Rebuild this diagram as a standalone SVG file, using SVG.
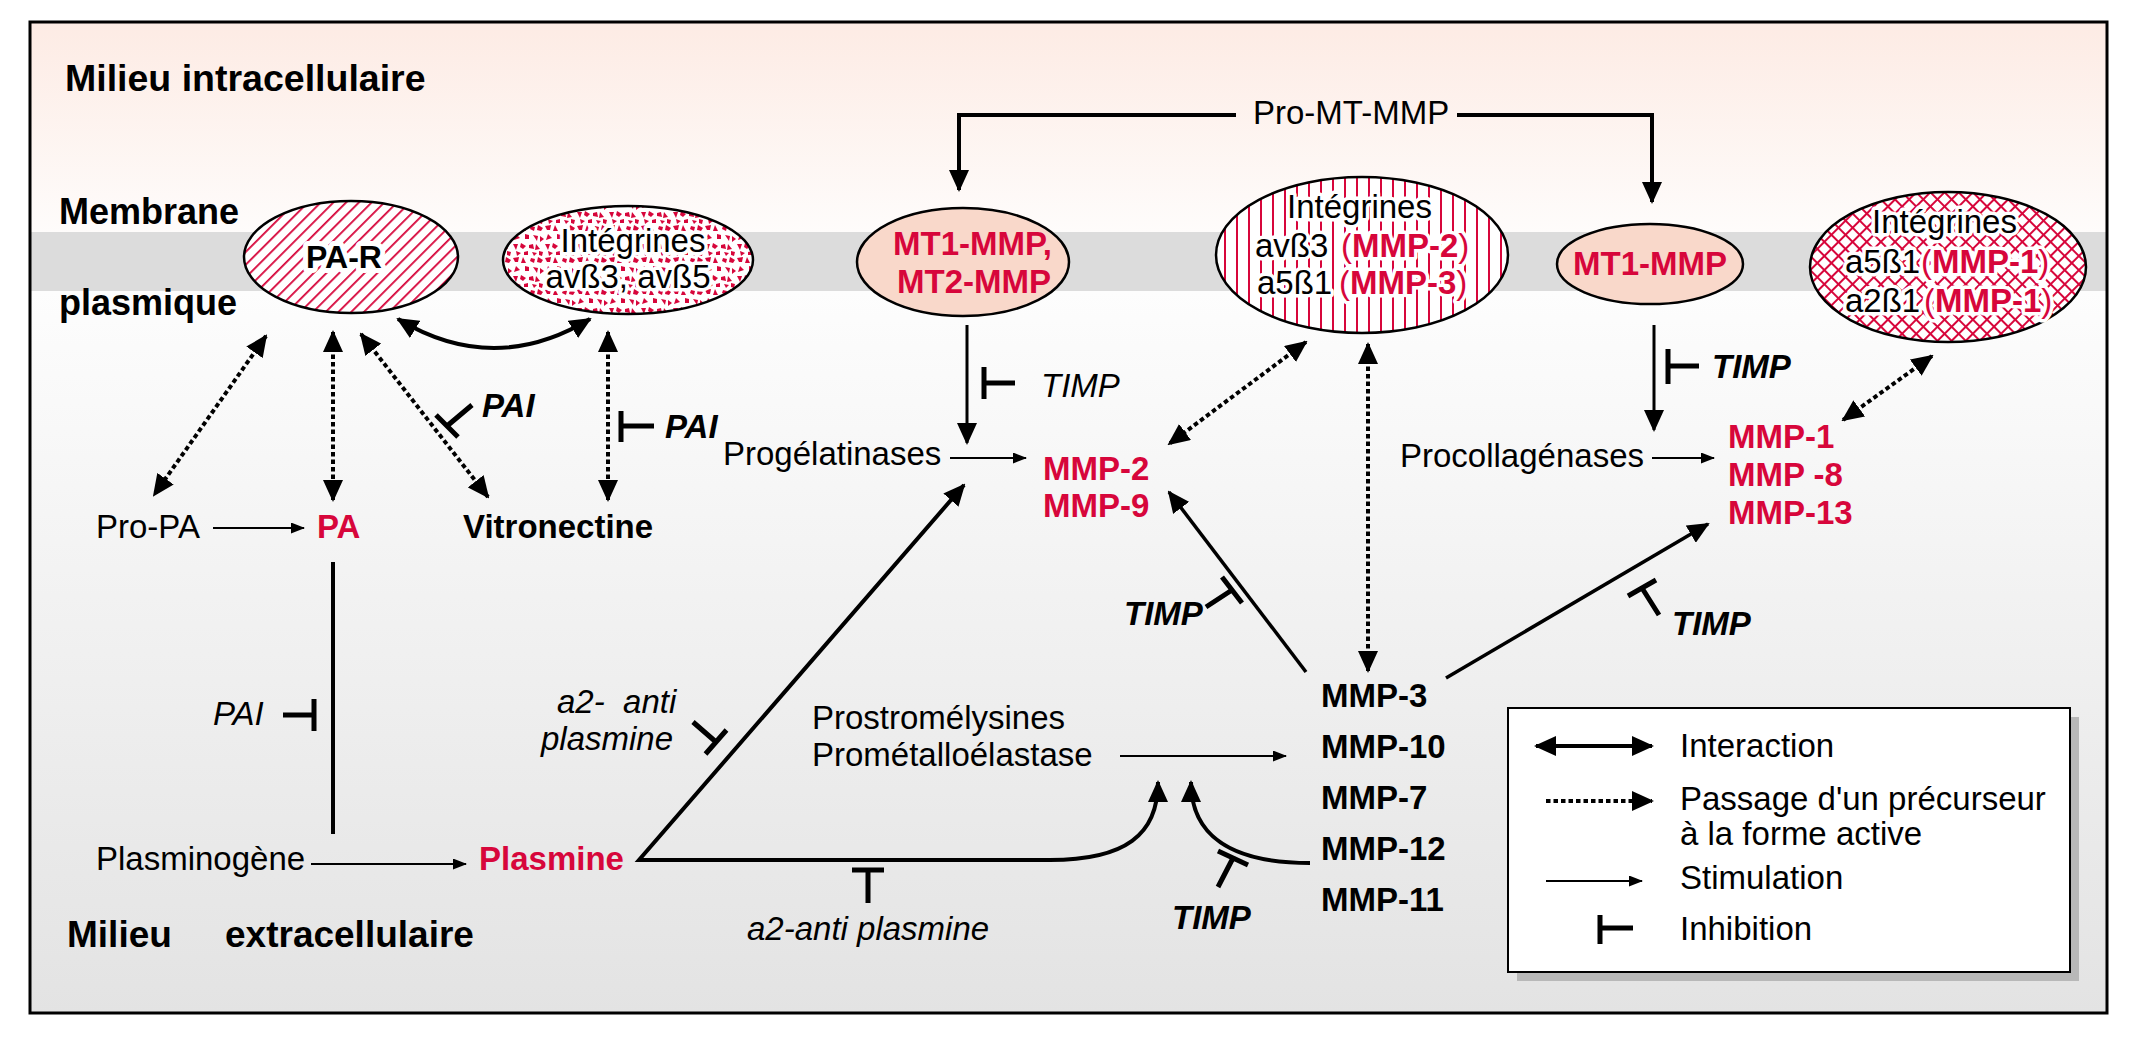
<svg xmlns="http://www.w3.org/2000/svg" width="2137" height="1052" viewBox="0 0 2137 1052">
<style>
text{font-family:"Liberation Sans",Arial,sans-serif;font-size:33px;fill:#000}
.b{font-weight:bold}
.i{font-style:italic}
.red{fill:#d7063b}
.reg{font-size:36px;font-weight:bold}
.halo{paint-order:stroke;stroke:#fff;stroke-width:7px;stroke-linejoin:round}
.ln{fill:none;stroke:#000;stroke-width:4}
.thin{fill:none;stroke:#000;stroke-width:2}
.dot{fill:none;stroke:#000;stroke-width:4;stroke-dasharray:4.5 3}
.inh{fill:none;stroke:#000;stroke-width:5}
.ell{stroke:#000;stroke-width:2.5}
</style>
<defs>
<linearGradient id="gTop" x1="0" y1="0" x2="0" y2="1">
<stop offset="0" stop-color="#fdebe4"/>
<stop offset="1" stop-color="#fefcfb"/>
</linearGradient>
<linearGradient id="gBot" x1="0" y1="0" x2="0" y2="1">
<stop offset="0" stop-color="#fdfdfd"/>
<stop offset="1" stop-color="#e3e3e3"/>
</linearGradient>
<pattern id="hDiag" width="9" height="9" patternUnits="userSpaceOnUse" patternTransform="rotate(45)">
<rect width="9" height="9" fill="#fff"/>
<rect x="0" y="0" width="1.8" height="9" fill="#d7063b"/>
</pattern>
<pattern id="hVert" width="12" height="12" patternUnits="userSpaceOnUse">
<rect width="12" height="12" fill="#fff"/>
<rect x="0" y="0" width="2" height="12" fill="#d7063b"/>
</pattern>
<pattern id="hCross" width="10" height="10" patternUnits="userSpaceOnUse" patternTransform="rotate(45)">
<rect width="10" height="10" fill="#fff"/>
<rect x="0" y="0" width="2" height="10" fill="#d7063b"/>
<rect x="0" y="0" width="10" height="2" fill="#d7063b"/>
</pattern>
<pattern id="speck" width="32" height="32" patternUnits="userSpaceOnUse">
<rect width="32" height="32" fill="#fff"/>
<g fill="#d7063b">
<path d="M1,2 l6,-1 l-1,5 l-3,0 z"/>
<path d="M11,1 l3,6 l-5,0 z"/>
<path d="M19,2 l4,1 l-1,4 l-4,-2 z"/>
<path d="M26,1 l5,3 l-2,3 l-4,-1 z"/>
<path d="M4,10 l4,4 l-6,2 z"/>
<path d="M13,10 l4,1 l0,4 l-4,0 z"/>
<path d="M21,11 l5,1 l-1,5 z"/>
<path d="M28,12 l4,3 l-4,3 z"/>
<path d="M1,20 l5,0 l-2,6 z"/>
<path d="M9,19 l5,3 l-3,3 l-3,-2 z"/>
<path d="M17,21 l4,-1 l1,5 l-5,-1 z"/>
<path d="M24,20 l4,5 l-5,1 z"/>
<path d="M4,27 l5,2 l-4,3 z"/>
<path d="M12,28 l4,-1 l0,4 l-4,0 z"/>
<path d="M20,28 l5,1 l-3,3 z"/>
<path d="M27,27 l4,1 l-1,4 l-3,-1 z"/>
</g>
</pattern>
<marker id="ah" viewBox="0 0 22 20" markerWidth="22" markerHeight="20" refX="20" refY="10" orient="auto-start-reverse" markerUnits="userSpaceOnUse">
<path d="M0,0 L22,10 L0,20 z" fill="#000"/>
</marker>
<marker id="as" viewBox="0 0 14 11" markerWidth="14" markerHeight="11" refX="13" refY="5.5" orient="auto" markerUnits="userSpaceOnUse">
<path d="M0,0 L14,5.5 L0,11 z" fill="#000"/>
</marker>
</defs>

<g id="background">
<rect x="0" y="0" width="2137" height="1052" fill="#fff"/>
<rect x="30" y="22" width="2077" height="210" fill="url(#gTop)"/>
<rect x="30" y="232" width="2077" height="59" fill="#dcdcdc"/>
<rect x="30" y="291" width="2077" height="722" fill="url(#gBot)"/>
<rect x="30" y="22" width="2077" height="991" fill="none" stroke="#000" stroke-width="3"/>
<text class="reg" x="65" y="91" style="font-size:37.5px">Milieu intracellulaire</text>
<text class="reg" x="59" y="224">Membrane</text>
<text class="reg" x="59" y="315">plasmique</text>
<text class="reg" x="67" y="947" style="font-size:37px">Milieu</text>
<text class="reg" x="225" y="947" style="font-size:37px">extracellulaire</text>
</g>

<g id="connectors">
<path class="ln" d="M1236,115 H959 V190" marker-end="url(#ah)"/>
<path class="ln" d="M1457,115 H1652 V202" marker-end="url(#ah)"/>
<path class="ln" style="stroke-width:3" d="M967,325 V443" marker-end="url(#ah)"/>
<path class="inh" d="M984,367 V399 M984,383 H1015"/>
<path class="ln" style="stroke-width:3" d="M1654,325 V430" marker-end="url(#ah)"/>
<path class="inh" d="M1668,349 V384 M1668,366 H1699"/>
<path class="thin" d="M950,458 H1026" marker-end="url(#as)"/>
<path class="thin" d="M1652,458 H1714" marker-end="url(#as)"/>
<path class="thin" d="M213,528 H304" marker-end="url(#as)"/>
<path class="thin" d="M311,864 H466" marker-end="url(#as)"/>
<path class="thin" d="M1120,756 H1286" marker-end="url(#as)"/>
<path class="ln" d="M333,562 V834"/>
<path class="inh" d="M314,699 V731 M314,715 H283"/>
<path class="ln" d="M964,485 L639,860 H1050 C1125,860 1158,835 1158,782" marker-start="url(#ah)" marker-end="url(#ah)"/>
<path class="inh" d="M705.5,754 L726.5,730 M716,742 L693,722"/>
<path class="inh" d="M852,870 H884 M868,870 V903"/>
<path class="ln" d="M1310,863 C1230,863 1191,835 1191,782" marker-end="url(#ah)"/>
<path class="inh" d="M1218,851 L1248,865 M1233,858 L1218,887"/>
<path class="ln" style="stroke-width:3.5" d="M1306,672 L1169,492" marker-end="url(#ah)"/>
<path class="inh" d="M1222,577 L1242,603 M1232,590 L1206,607"/>
<path class="ln" style="stroke-width:3.5" d="M1446,678 L1708,524" marker-end="url(#ah)"/>
<path class="inh" d="M1628,596 L1656,580 M1642,588 L1659,615"/>
<path class="ln" d="M398,319 Q494,377 590,319" marker-start="url(#ah)" marker-end="url(#ah)"/>
<path class="dot" d="M266,336 L154,495" marker-start="url(#ah)" marker-end="url(#ah)"/>
<path class="dot" d="M333,332 V500" marker-start="url(#ah)" marker-end="url(#ah)"/>
<path class="dot" d="M361,334 L488,497" marker-start="url(#ah)" marker-end="url(#ah)"/>
<path class="dot" d="M608,332 V500" marker-start="url(#ah)" marker-end="url(#ah)"/>
<path class="dot" d="M1306,342 L1169,444" marker-start="url(#ah)" marker-end="url(#ah)"/>
<path class="dot" d="M1368,344 V671" marker-start="url(#ah)" marker-end="url(#ah)"/>
<path class="dot" d="M1932,356 L1843,420" marker-start="url(#ah)" marker-end="url(#ah)"/>
<path class="inh" d="M436,415 L458,437 M447,426 L472,405"/>
<path class="inh" d="M621,411 V442 M621,426 H654"/>
</g>

<g id="inhibitor-labels">
<text class="i" x="1041" y="397">TIMP</text>
<text class="b i" x="1712" y="378">TIMP</text>
<text class="b i" x="1124" y="625">TIMP</text>
<text class="b i" x="1672" y="635">TIMP</text>
<text class="b i" x="1172" y="929">TIMP</text>
<text class="i" x="213" y="725">PAI</text>
<text class="b i" x="482" y="417">PAI</text>
<text class="b i" x="665" y="438">PAI</text>
<text class="i" x="557" y="713" xml:space="preserve">a2-  anti</text>
<text class="i" x="541" y="750">plasmine</text>
<text class="i" x="747" y="940">a2-anti plasmine</text>
</g>

<g id="node-pro-mt-mmp"><text x="1253" y="124">Pro-MT-MMP</text></g>

<g id="node-par">
<ellipse class="ell" cx="351" cy="257" rx="107" ry="56" fill="url(#hDiag)"/>
<text class="b halo" x="344" y="268" text-anchor="middle" style="font-size:32px;stroke-width:10px">PA-R</text>
</g>

<g id="node-integrines-avb3-avb5">
<ellipse class="ell" cx="628" cy="260" rx="125" ry="54" fill="url(#speck)"/>
<text class="halo" x="633" y="252" text-anchor="middle">Intégrines</text>
<text class="halo" x="628" y="288" text-anchor="middle">avß3, avß5</text>
</g>

<g id="node-mt1-mt2">
<ellipse class="ell" cx="963" cy="262" rx="106" ry="54" fill="#f9d8ca"/>
<text class="b red" x="893" y="255">MT1-MMP,</text>
<text class="b red" x="897" y="293">MT2-MMP</text>
</g>

<g id="node-integrines-mmp2-mmp3">
<ellipse class="ell" cx="1362" cy="255" rx="146" ry="78" fill="url(#hVert)"/>
<text class="halo" x="1287" y="218">Intégrines</text>
<text class="halo" x="1255" y="257">avß3<tspan class="red" x="1341">(</tspan><tspan class="red b">MMP-2</tspan><tspan class="red">)</tspan></text>
<text class="halo" x="1257" y="294">a5ß1<tspan class="red" x="1339">(</tspan><tspan class="red b">MMP-3</tspan><tspan class="red">)</tspan></text>
</g>

<g id="node-mt1-mmp">
<ellipse class="ell" cx="1650" cy="264" rx="93" ry="40" fill="#f9d8ca"/>
<text class="b red" x="1650" y="275" text-anchor="middle">MT1-MMP</text>
</g>

<g id="node-integrines-mmp1">
<ellipse class="ell" cx="1948" cy="267" rx="138" ry="75" fill="url(#hCross)"/>
<text class="halo" x="1872" y="233">Intégrines</text>
<text class="halo" x="1845" y="273">a5ß1<tspan class="red" x="1921">(</tspan><tspan class="red b">MMP-1</tspan><tspan class="red">)</tspan></text>
<text class="halo" x="1845" y="312">a2ß1<tspan class="red" x="1924">(</tspan><tspan class="red b">MMP-1</tspan><tspan class="red">)</tspan></text>
</g>

<g id="node-pro-pa"><text x="96" y="538">Pro-PA</text></g>
<g id="node-pa"><text class="b red" x="317" y="538">PA</text></g>
<g id="node-vitronectine"><text class="b" x="463" y="538">Vitronectine</text></g>
<g id="node-plasminogene"><text x="96" y="870">Plasminogène</text></g>
<g id="node-plasmine"><text class="b red" x="479" y="870">Plasmine</text></g>
<g id="node-progelatinases"><text x="723" y="465">Progélatinases</text></g>
<g id="node-mmp2-mmp9">
<text class="b red" x="1043" y="480">MMP-2</text>
<text class="b red" x="1043" y="517">MMP-9</text>
</g>
<g id="node-procollagenases"><text x="1400" y="467">Procollagénases</text></g>
<g id="node-mmp1-8-13">
<text class="b red" x="1728" y="448">MMP-1</text>
<text class="b red" x="1728" y="486">MMP -8</text>
<text class="b red" x="1728" y="524">MMP-13</text>
</g>
<g id="node-prostromelysines">
<text x="812" y="729">Prostromélysines</text>
<text x="812" y="766">Prométalloélastase</text>
</g>
<g id="node-mmp3-group">
<text class="b" x="1321" y="707">MMP-3</text>
<text class="b" x="1321" y="758">MMP-10</text>
<text class="b" x="1321" y="809">MMP-7</text>
<text class="b" x="1321" y="860">MMP-12</text>
<text class="b" x="1321" y="911">MMP-11</text>
</g>

<g id="legend">
<rect x="1517" y="717" width="562" height="264" fill="#b8b8b8"/>
<rect x="1508" y="708" width="562" height="264" fill="#fff" stroke="#000" stroke-width="2"/>
<path class="ln" d="M1536,746 H1652" marker-start="url(#ah)" marker-end="url(#ah)"/>
<path class="dot" d="M1546,801 H1652" marker-end="url(#ah)"/>
<path class="thin" d="M1546,881 H1642" marker-end="url(#as)"/>
<path class="inh" d="M1600,915 V944 M1600,928 H1633"/>
<text x="1680" y="757">Interaction</text>
<text x="1680" y="810">Passage d'un précurseur</text>
<text x="1680" y="845">à la forme active</text>
<text x="1680" y="889">Stimulation</text>
<text x="1680" y="940">Inhibition</text>
</g>
</svg>
